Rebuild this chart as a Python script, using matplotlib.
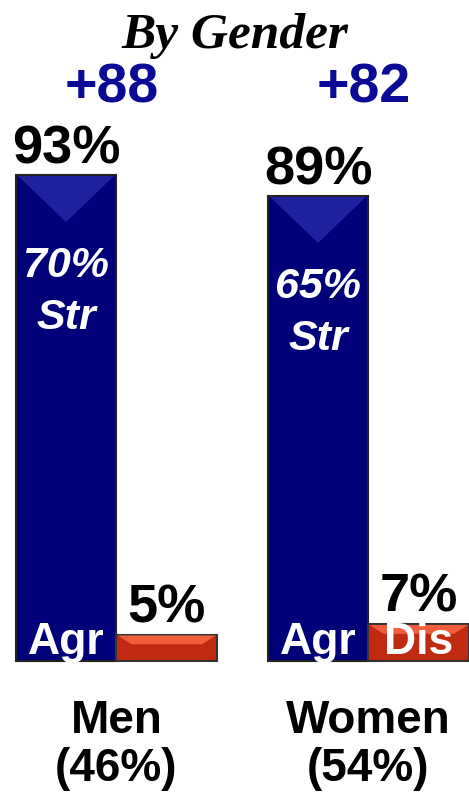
import matplotlib
matplotlib.use("Agg")
import matplotlib.pyplot as plt
from matplotlib.patches import Polygon
import numpy as np

groups = ["Men", "Women"]
group_shares = ["(46%)", "(54%)"]
agree = [93, 89]
disagree = [5, 7]
strong = [70, 65]
margins = ["+88", "+82"]
title = "By Gender"

NAVY = "#000078"
NAVY_LIGHT = "#4a4ad0"
RED = "#c02a10"
RED_LIGHT = "#ff6a4a"
MARGIN_COL = "#0a0a96"

fig = plt.figure(figsize=(4.69, 7.96), dpi=100)
ax = fig.add_axes([0, 0, 1, 1])
ax.set_xlim(-0.462, 1.399)
ax.set_ylim(-25.83, 126.48)
ax.axis("off")

x = np.arange(len(groups))
w = 0.40
bars_a = ax.bar(x - w / 2, agree, width=w, color=NAVY, edgecolor="#222222", linewidth=1.5, zorder=2)
bars_d = ax.bar(x + w / 2, disagree, width=w, color=RED, edgecolor="#333333", linewidth=1.5, zorder=2)

# bevel highlights
for b in bars_a:
    x0, y1, bw = b.get_x(), b.get_height(), b.get_width()
    tri = Polygon([[x0 + 0.01, y1 - 0.2], [x0 + bw - 0.01, y1 - 0.2], [x0 + bw / 2, y1 - 9]],
                  closed=True, color=NAVY_LIGHT, alpha=0.45, lw=0, zorder=3)
    ax.add_patch(tri)
for b in bars_d:
    x0, y1, bw = b.get_x(), b.get_height(), b.get_width()
    trap = Polygon([[x0 + 0.005, y1 - 0.1], [x0 + bw - 0.005, y1 - 0.1],
                    [x0 + bw - 0.06, y1 - 1.8], [x0 + 0.06, y1 - 1.8]],
                   closed=True, color=RED_LIGHT, alpha=0.8, lw=0, zorder=3)
    ax.add_patch(trap)

sans = "Liberation Sans"
ax.text(0.47, 119.6, title, ha="center", va="center", fontsize=37,
        family="Liberation Serif", weight="bold", style="italic")

for i in range(len(groups)):
    ax.text(x[i] - 0.02, 109.6, margins[i], ha="center", va="center",
            fontsize=40, family=sans, weight="bold", color=MARGIN_COL)
    ax.text(x[i] - w / 2, agree[i] + 0.1, f"{agree[i]}%", ha="center", va="bottom",
            fontsize=39, family=sans, weight="bold", color="black")
    ax.text(x[i] + w / 2, disagree[i] + 0.3, f"{disagree[i]}%", ha="center", va="bottom",
            fontsize=39, family=sans, weight="bold", color="black")
    ax.text(x[i] - w / 2, agree[i] - 17.4, f"{strong[i]}%", ha="center", va="center",
            fontsize=31, family=sans, weight="bold", style="italic", color="white", zorder=4)
    ax.text(x[i] - w / 2, agree[i] - 27.4, "Str", ha="center", va="center",
            fontsize=31, family=sans, weight="bold", style="italic", color="white", zorder=4)
    ax.text(x[i] - w / 2, 3.6, "Agr", ha="center", va="center",
            fontsize=32, family=sans, weight="bold", color="white", zorder=4)
    ax.text(x[i], -11.5, groups[i], ha="center", va="center",
            fontsize=33, family=sans, weight="bold", color="black")
    ax.text(x[i], -20.6, group_shares[i], ha="center", va="center",
            fontsize=33, family=sans, weight="bold", color="black")

ax.text(x[1] + w / 2, 3.5, "Dis", ha="center", va="center",
        fontsize=32, family=sans, weight="bold", color="white", zorder=4)

fig.savefig("out.png", dpi=100)
